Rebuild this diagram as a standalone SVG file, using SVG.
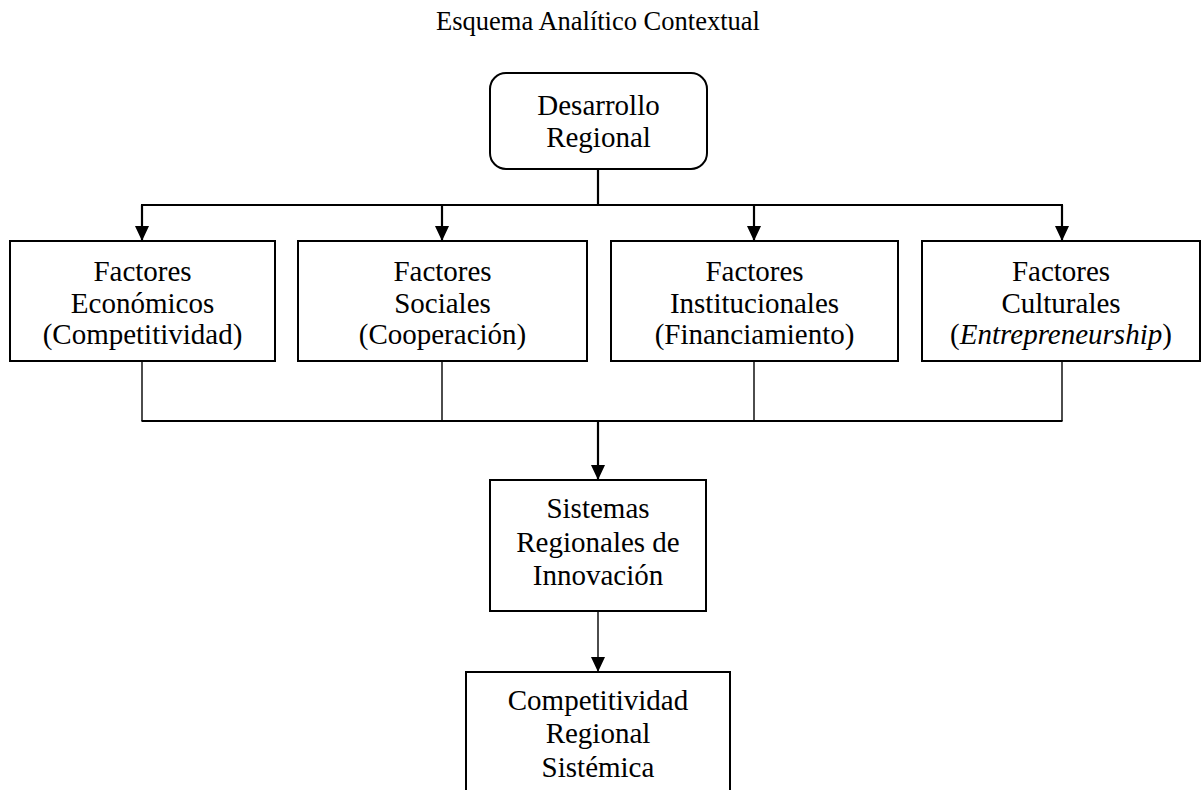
<svg xmlns="http://www.w3.org/2000/svg" width="1203" height="790" viewBox="0 0 1203 790">
<style>
.box{fill:#fff;stroke:#000;stroke-width:2}
.t{font-family:"Liberation Serif","Times New Roman",serif;font-size:29px;fill:#000;text-anchor:middle}
.title{font-family:"Liberation Serif","Times New Roman",serif;font-size:26.5px;fill:#000;text-anchor:middle}
.thick{stroke:#000;stroke-width:2.2;fill:none}
.thin{stroke:#000;stroke-width:1.4;fill:none}
</style>
<defs>
<marker id="ah" viewBox="0 0 15 14" refX="15" refY="7" markerWidth="15" markerHeight="14" markerUnits="userSpaceOnUse" orient="auto">
<path d="M0,0 L15,7 L0,14 Z" fill="#000"/>
</marker>
</defs>
<rect width="1203" height="790" fill="#fff"/>
<text class="title" x="598" y="30">Esquema Analítico Contextual</text>
<g id="connectors">
<line class="thick" x1="598" y1="169" x2="598" y2="205"/>
<line class="thick" x1="141" y1="205" x2="1063" y2="205"/>
<line class="thick" x1="142" y1="205" x2="142" y2="241" marker-end="url(#ah)"/>
<line class="thick" x1="442" y1="205" x2="442" y2="241" marker-end="url(#ah)"/>
<line class="thick" x1="754" y1="205" x2="754" y2="241" marker-end="url(#ah)"/>
<line class="thick" x1="1062" y1="205" x2="1062" y2="241" marker-end="url(#ah)"/>
<line class="thin" x1="142" y1="361" x2="142" y2="421"/>
<line class="thin" x1="442" y1="361" x2="442" y2="421"/>
<line class="thin" x1="754" y1="361" x2="754" y2="421"/>
<line class="thin" x1="1062" y1="361" x2="1062" y2="421"/>
<line class="thick" x1="141.5" y1="421" x2="1062.5" y2="421"/>
<line class="thick" x1="598" y1="421" x2="598" y2="480" marker-end="url(#ah)"/>
<line class="thin" x1="598" y1="611" x2="598" y2="672" marker-end="url(#ah)"/>
</g>
<g id="desarrollo">
<rect class="box" x="490" y="73" width="217" height="96" rx="16" ry="16"/>
<text class="t" x="598.5" y="115">Desarrollo</text>
<text class="t" x="598.5" y="147">Regional</text>
</g>
<g id="economicos">
<rect class="box" x="10" y="241" width="265" height="120"/>
<text class="t" x="142.5" y="281">Factores</text>
<text class="t" x="142.5" y="313">Económicos</text>
<text class="t" x="142.5" y="344">(Competitividad)</text>
</g>
<g id="sociales">
<rect class="box" x="298" y="241" width="289" height="120"/>
<text class="t" x="442.5" y="281">Factores</text>
<text class="t" x="442.5" y="313">Sociales</text>
<text class="t" x="442.5" y="344">(Cooperación)</text>
</g>
<g id="institucionales">
<rect class="box" x="611" y="241" width="287" height="120"/>
<text class="t" x="754.5" y="281">Factores</text>
<text class="t" x="754.5" y="313">Institucionales</text>
<text class="t" x="754.5" y="344">(Financiamiento)</text>
</g>
<g id="culturales">
<rect class="box" x="922" y="241" width="278" height="120"/>
<text class="t" x="1061" y="281">Factores</text>
<text class="t" x="1061" y="313">Culturales</text>
<text class="t" x="1061" y="344">(<tspan font-style="italic">Entrepreneurship</tspan>)</text>
</g>
<g id="sistemas">
<rect class="box" x="490" y="480" width="216" height="131"/>
<text class="t" x="598" y="518">Sistemas</text>
<text class="t" x="598" y="552">Regionales de</text>
<text class="t" x="598" y="585">Innovación</text>
</g>
<g id="competitividad">
<rect class="box" x="466" y="672" width="264" height="130"/>
<text class="t" x="598" y="710">Competitividad</text>
<text class="t" x="598" y="743">Regional</text>
<text class="t" x="598" y="777">Sistémica</text>
</g>
</svg>
